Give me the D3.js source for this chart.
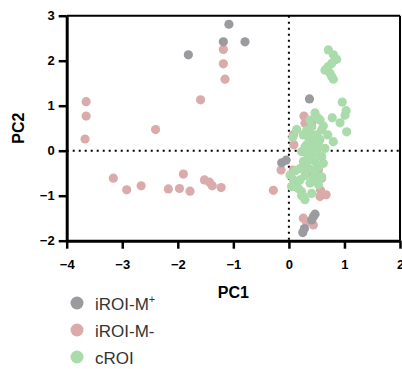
<!DOCTYPE html>
<html>
<head>
<meta charset="utf-8">
<script src="https://cdn.jsdelivr.net/npm/d3@7"></script>
<style>
  body { margin: 0; background: #fff; }
  svg { font-family: "Liberation Sans", Arial, sans-serif; }
</style>
</head>
<body>
<svg id="chart" width="402" height="369"></svg>
<script>
// group names
const groups = ['iROI-M+', 'iROI-M-', 'cROI'];
const groupColors = ['#9b9b9f', '#dbabab', '#aadbaa'];

const xTicks = [-4, -3, -2, -1, 0, 1, 2];
const yTicks = [-2, -1, 0, 1, 2, 3];

// [PC1, PC2] pairs per group
const greyPoints = [
  [-1.08, 2.81], [-1.18, 2.42], [-0.79, 2.42], [-1.81, 2.13], [0.37, 1.15],
  [-0.13, -0.27], [-0.05, -0.21], [0.25, -1.82], [0.28, -1.73], [0.41, -1.54],
  [0.44, -1.47], [0.47, -1.41]
];
const pinkPoints = [
  [-3.65, 1.09], [-3.65, 0.77], [-3.67, 0.26], [-2.40, 0.47], [-1.59, 1.13],
  [-1.18, 2.25], [-1.18, 1.93], [-1.15, 1.59],
  [-3.16, -0.61], [-2.92, -0.87], [-2.66, -0.78], [-2.17, -0.85], [-1.97, -0.84],
  [-1.90, -0.52], [-1.78, -0.90], [-1.52, -0.65], [-1.43, -0.70], [-1.38, -0.78],
  [-1.22, -0.82], [-0.28, -0.88],
  [0.27, 0.77], [0.29, 0.61], [0.41, 0.61], [0.08, 0.35], [0.09, 0.13],
  [-0.14, -0.43], [0.08, -0.43], [0.29, -0.43], [0.35, -0.50], [0.53, -0.43],
  [0.59, -0.61], [0.57, -0.88], [0.59, -0.98], [0.67, -0.98], [0.56, -1.02],
  [0.26, -1.50], [0.32, -1.59], [0.44, -1.65]
];
const greenPoints = [
  [0.71, 2.24], [0.80, 2.13], [0.86, 2.03], [0.77, 1.94], [0.71, 1.87],
  [0.65, 1.79], [0.74, 1.72], [0.80, 1.59], [0.77, 1.65], [0.68, 1.82],
  [0.96, 1.08], [1.03, 0.89], [1.01, 0.79], [0.78, 0.73], [0.92, 0.62],
  [1.04, 0.42], [0.80, 0.20], [0.47, 0.84], [0.53, 0.72], [0.56, 0.68],
  [0.14, 0.47], [0.07, 0.30], [0.41, 0.53], [0.59, 0.46], [0.38, 0.39],
  [0.44, 0.24], [0.32, 0.13], [0.53, 0.16], [0.29, 0.09], [0.23, -0.02],
  [0.38, -0.10], [0.50, 0.02], [0.59, -0.13], [0.32, -0.06], [0.26, -0.24],
  [0.47, -0.24], [0.62, -0.28], [0.35, -0.39], [0.53, -0.36], [0.44, -0.43],
  [0.47, -0.50], [0.44, -0.61], [0.59, -0.58], [0.02, -0.54], [0.08, -0.65],
  [0.14, -0.72], [0.17, -0.84], [0.23, -0.91], [0.26, -1.02], [0.29, -1.09],
  [0.05, -0.80], [0.20, -0.65], [0.14, -0.80],
  [0.35, 0.30], [0.50, 0.35], [0.41, 0.05], [0.56, 0.25], [0.38, 0.68],
  [0.62, 0.55], [0.26, 0.35], [0.47, -0.05], [0.35, -0.22], [0.29, -0.55],
  [0.38, -0.72], [0.53, -0.75], [0.41, -0.95], [0.20, -0.40], [0.11, -0.45],
  [0.32, 0.45], [0.65, 0.05], [0.70, 0.35], [0.23, -1.00]
];
const seriesPoints = [greyPoints, pinkPoints, greenPoints];

const svg = d3.select('#chart');
const margin = { top: 15.7, right: 2, bottom: 128.3, left: 66.7 };
const width = 402 - margin.left - margin.right;
const height = 369 - margin.top - margin.bottom;

const x = d3.scaleLinear().domain([-4, 2]).range([margin.left, margin.left + width]);
const y = d3.scaleLinear().domain([-2, 3]).range([margin.top + height, margin.top]);

// Dotted zero lines
svg.append('line')
  .attr('x1', x(0)).attr('x2', x(0))
  .attr('y1', y(3)).attr('y2', y(-2))
  .attr('stroke', '#000').attr('stroke-width', 2)
  .attr('stroke-dasharray', '2,4');
svg.append('line')
  .attr('x1', x(-4)).attr('x2', x(2))
  .attr('y1', y(0)).attr('y2', y(0))
  .attr('stroke', '#000').attr('stroke-width', 2)
  .attr('stroke-dasharray', '2,4');

// Points: pink, green, then grey on top
const drawOrder = [1, 2, 0];
drawOrder.forEach(i => {
  svg.append('g')
    .selectAll('circle')
    .data(seriesPoints[i])
    .join('circle')
      .attr('cx', d => x(d[0]))
      .attr('cy', d => y(d[1]))
      .attr('r', 4.6)
      .attr('fill', groupColors[i]);
});

// Frame top/right
svg.append('line')
  .attr('x1', x(-4)).attr('x2', x(2)).attr('y1', y(3)).attr('y2', y(3))
  .attr('stroke', '#000').attr('stroke-width', 2);
svg.append('line')
  .attr('x1', x(2)).attr('x2', x(2)).attr('y1', y(3)).attr('y2', y(-2))
  .attr('stroke', '#000').attr('stroke-width', 2);

// Axes
const fmt = d3.format('d');
const xAxis = svg.append('g')
  .attr('transform', `translate(0,${y(-2)})`)
  .call(d3.axisBottom(x).tickValues(xTicks).tickFormat(fmt).tickSize(8).tickSizeOuter(0).tickPadding(11));
const yAxis = svg.append('g')
  .attr('transform', `translate(${x(-4)},0)`)
  .call(d3.axisLeft(y).tickValues(yTicks).tickFormat(fmt).tickSize(8).tickSizeOuter(0).tickPadding(4));

[xAxis, yAxis].forEach(a => {
  a.select('.domain').attr('stroke', '#000').attr('stroke-width', 3);
  a.selectAll('.tick line').attr('stroke', '#000').attr('stroke-width', 2.5);
  a.selectAll('.tick text')
    .attr('fill', '#000')
    .style('font-size', '13px')
    .style('font-weight', 'bold')
    .style('font-family', '"Liberation Sans", Arial, sans-serif');
});

// Axis titles
svg.append('text')
  .attr('x', x(-1)).attr('y', 298)
  .attr('text-anchor', 'middle')
  .style('font-size', '16px').style('font-weight', 'bold')
  .text('PC1');
svg.append('text')
  .attr('transform', `translate(24,${y(0.5)}) rotate(-90)`)
  .attr('text-anchor', 'middle')
  .style('font-size', '16px').style('font-weight', 'bold')
  .text('PC2');

// Legend
const legend = svg.append('g').attr('transform', 'translate(77,303)');
groups.forEach((g, i) => {
  const row = legend.append('g').attr('transform', `translate(0,${i * 27})`);
  row.append('circle').attr('r', 6.5).attr('fill', groupColors[i]);
  const t = row.append('text').attr('x', 18).attr('y', 6.5)
    .style('font-size', '17px').attr('fill', '#333');
  if (g.endsWith('+')) {
    t.append('tspan').text(g.slice(0, -1));
    t.append('tspan').attr('dy', -7).style('font-size', '11px').text('+');
  } else {
    t.text(g);
  }
});
</script>
</body>
</html>
